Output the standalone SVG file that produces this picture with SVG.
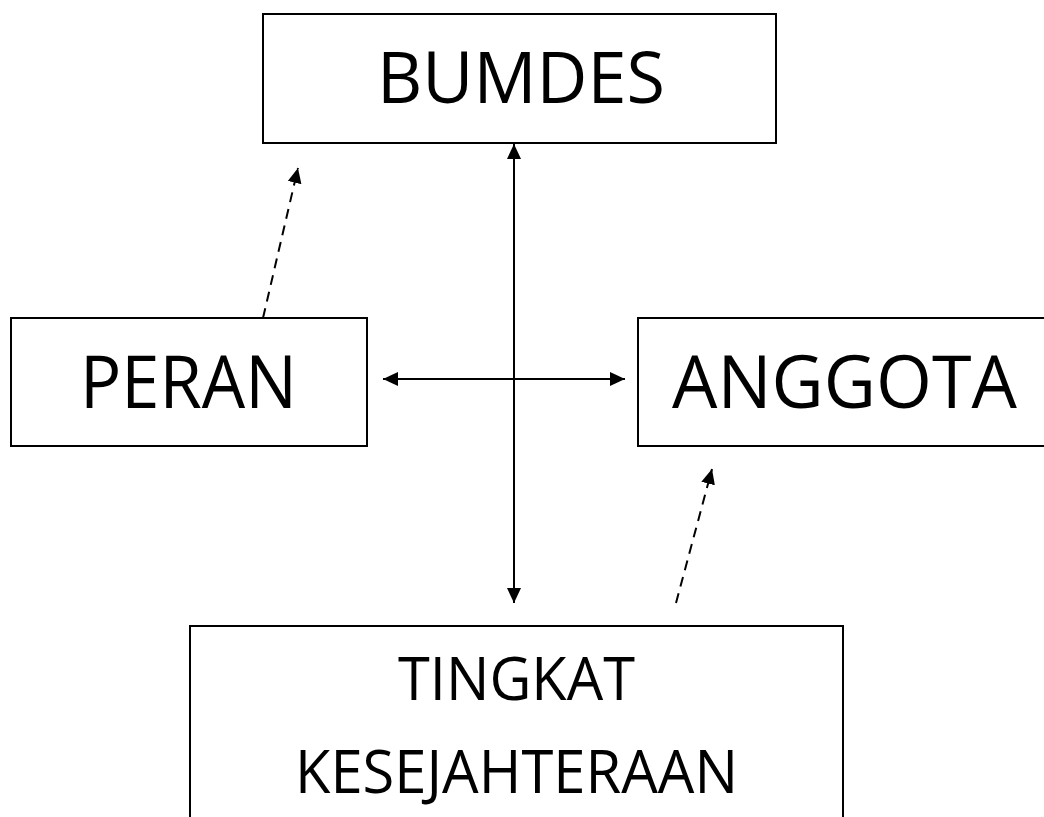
<svg xmlns="http://www.w3.org/2000/svg" width="1044" height="817" viewBox="0 0 1044 817">
  <defs>
    <style>
      .box { fill: #ffffff; stroke: #000000; stroke-width: 2; }
      .lbl { font-family: "Open Sans", "Noto Sans", "Liberation Sans", sans-serif; fill: #000000; text-anchor: middle; }
      .con { stroke: #000000; stroke-width: 2; fill: none; }
      .dash { stroke-dasharray: 10 7; }
    </style>
    <marker id="ah" viewBox="0 0 15 14" refX="15" refY="7" markerWidth="15" markerHeight="14" markerUnits="userSpaceOnUse" orient="auto-start-reverse">
      <path d="M0,0 L15,7 L0,14 Z" fill="#000000"/>
    </marker>
  </defs>
  <rect width="1044" height="817" fill="#ffffff"/>

  <g id="bumdes">
    <rect class="box" x="263" y="14" width="513" height="129"/>
    <text class="lbl" x="521" y="103" font-size="71" textLength="288" lengthAdjust="spacingAndGlyphs">BUMDES</text>
  </g>

  <g id="peran">
    <rect class="box" x="11" y="318" width="356" height="128"/>
    <text class="lbl" x="188.5" y="408" font-size="74" textLength="217" lengthAdjust="spacingAndGlyphs">PERAN</text>
  </g>

  <g id="anggota">
    <rect class="box" x="638" y="318" width="420" height="128"/>
    <text class="lbl" x="844.5" y="408" font-size="74" textLength="345" lengthAdjust="spacingAndGlyphs">ANGGOTA</text>
  </g>

  <g id="tingkat">
    <rect class="box" x="190" y="626" width="653" height="210"/>
    <text class="lbl" x="516.5" y="700" font-size="60" textLength="237" lengthAdjust="spacingAndGlyphs">TINGKAT</text>
    <text class="lbl" x="516.5" y="793" font-size="60" textLength="443" lengthAdjust="spacingAndGlyphs">KESEJAHTERAAN</text>
  </g>

  <g id="connectors">
    <line class="con" x1="514" y1="144" x2="514" y2="603" marker-start="url(#ah)" marker-end="url(#ah)"/>
    <line class="con" x1="383" y1="379" x2="625" y2="379" marker-start="url(#ah)" marker-end="url(#ah)"/>
    <line class="con dash" x1="263" y1="318" x2="298" y2="168" marker-end="url(#ah)"/>
    <line class="con dash" x1="676" y1="603" x2="712" y2="469" marker-end="url(#ah)"/>
  </g>
</svg>
